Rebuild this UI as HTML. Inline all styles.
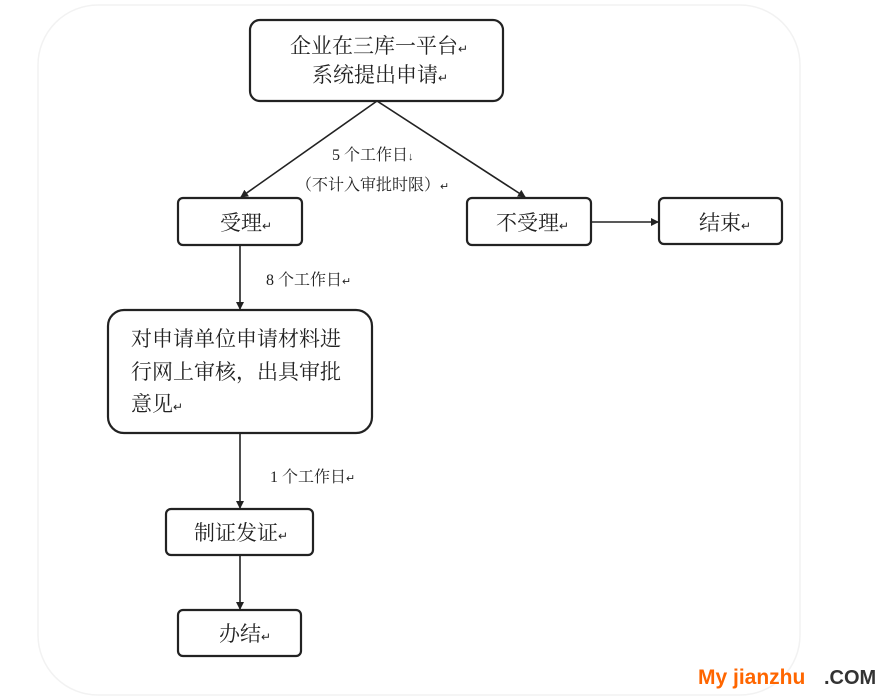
<!DOCTYPE html>
<html><head><meta charset="utf-8"><style>
html,body{margin:0;padding:0;background:#fff;width:891px;height:699px;overflow:hidden}
svg text{font-family:"Liberation Serif","Noto Serif CJK SC",serif;fill:#222}
</style></head><body>
<svg width="891" height="699" viewBox="0 0 891 699" xmlns="http://www.w3.org/2000/svg">
<defs><marker id="a" markerWidth="8" markerHeight="8" refX="7" refY="4" orient="auto" markerUnits="userSpaceOnUse"><path d="M0,0 L8,4 L0,8 z" fill="#222"/></marker></defs>
<rect x="38" y="5" width="762" height="690" rx="60" fill="none" stroke="#f2f2f2" stroke-width="1.5"/>
<g fill="none" stroke="#222" stroke-width="2.2">
<rect x="250" y="20" width="253" height="81" rx="10"/>
<rect x="178" y="198" width="124" height="47" rx="5"/>
<rect x="467" y="198" width="124" height="47" rx="5"/>
<rect x="659" y="198" width="123" height="46" rx="5"/>
<rect x="108" y="310" width="264" height="123" rx="16"/>
<rect x="166" y="509" width="147" height="46" rx="5"/>
<rect x="178" y="610" width="123" height="46" rx="5"/>
</g>
<g stroke="#222" stroke-width="1.6" marker-end="url(#a)">
<line x1="377" y1="101" x2="241" y2="197"/>
<line x1="377" y1="101" x2="525" y2="197"/>
<line x1="240" y1="245" x2="240" y2="309"/>
<line x1="240" y1="433" x2="240" y2="508"/>
<line x1="240" y1="555" x2="240" y2="609"/>
<line x1="591" y1="222" x2="658" y2="222"/>
</g>
<g font-size="21">
<text x="290" y="53">企业在三库一平台<tspan font-size="12">↵</tspan></text>
<text x="312" y="82">系统提出申请<tspan font-size="12">↵</tspan></text>
<text x="220" y="230">受理<tspan font-size="12">↵</tspan></text>
<text x="496" y="230">不受理<tspan font-size="12">↵</tspan></text>
<text x="699" y="230">结束<tspan font-size="12">↵</tspan></text>
<text x="131" y="346">对申请单位申请材料进</text>
<text x="131" y="379">行网上审核，出具审批</text>
<text x="131" y="411">意见<tspan font-size="12">↵</tspan></text>
<text x="194" y="540">制证发证<tspan font-size="12">↵</tspan></text>
<text x="219" y="641">办结<tspan font-size="12">↵</tspan></text>
</g>
<g font-size="16">
<text x="332" y="160">5 个工作日<tspan font-size="11">↓</tspan></text>
<text x="296" y="190">（不计入审批时限）<tspan font-size="11">↵</tspan></text>
<text x="266" y="285">8 个工作日<tspan font-size="11">↵</tspan></text>
<text x="270" y="482">1 个工作日<tspan font-size="11">↵</tspan></text>
</g>
<text x="698" y="684" font-weight="bold" font-size="21" style="font-family:'Liberation Sans',sans-serif;fill:#ff6600">My jianzhu</text>
<text x="824" y="684" font-weight="bold" font-size="20" style="font-family:'Liberation Sans',sans-serif;fill:#333">.COM</text>
</svg>
</body></html>
